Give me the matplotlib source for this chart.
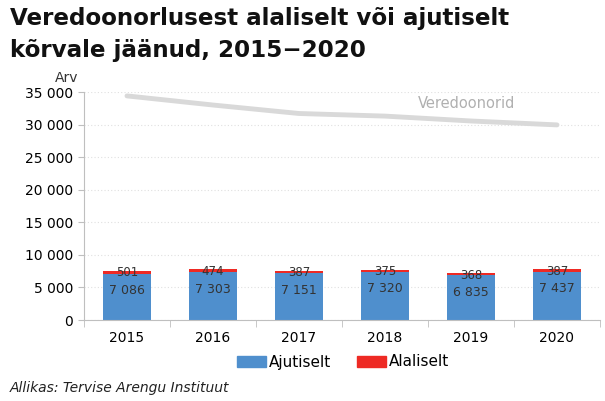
import matplotlib.pyplot as plt
from matplotlib.patches import Patch

# ── Data ──────────────────────────────────────────────────────────────────────
years = ["2015", "2016", "2017", "2018", "2019", "2020"]
ajutiselt = [7086, 7303, 7151, 7320, 6835, 7437]
alaliselt = [501, 474, 387, 375, 368, 387]
veredoonorid = [34400, 33000, 31700, 31300, 30550, 29950]

BLUE = "#4f8fcd"
RED = "#ee2a24"
GREY = "#d9d9d9"
plt.rcParams["font.family"] = ["DejaVu Sans"]

fig = plt.figure(figsize=(6.05, 4.01), dpi=100)
ax = fig.add_axes([84 / 605, 1 - 320 / 401, 516 / 605, 228 / 401])

x = list(range(len(years)))
ax.bar(x, ajutiselt, width=0.56, color=BLUE, zorder=2)
ax.bar(x, alaliselt, width=0.56, bottom=ajutiselt, color=RED, zorder=2)
ax.plot(x, veredoonorid, color=GREY, linewidth=3.5, solid_capstyle="round", zorder=2)

fmt = lambda v: f"{v:,}".replace(",", " ")
for xi, a, b in zip(x, ajutiselt, alaliselt):
    ax.annotate(fmt(a), (xi, a), xytext=(0, -12), textcoords="offset points",
                ha="center", va="center", fontsize=9, color="#333333", zorder=3)
    ax.annotate(fmt(b), (xi, a + b), xytext=(0, -1.5), textcoords="offset points",
                ha="center", va="center", fontsize=8.5, color="#333333", zorder=3)

ax.text(3.38, 33200, "Veredoonorid", color="#b0b0b0", fontsize=10.5, ha="left", va="center")

ax.set_xlim(-0.5, 5.5)
ax.set_ylim(0, 35000)
ax.set_yticks(range(0, 35001, 5000))
ax.set_yticklabels([fmt(v) for v in range(0, 35001, 5000)], fontsize=10)
ax.set_xticks(x)
ax.set_xticklabels(years, fontsize=10)
ax.set_xticks([i - 0.5 for i in range(len(years) + 1)], minor=True)
ax.tick_params(axis="x", which="major", length=0, pad=8)
ax.tick_params(axis="x", which="minor", length=5, color="#bfbfbf")
ax.tick_params(axis="y", length=4, color="#bfbfbf", pad=4)
ax.yaxis.grid(True, color="#e0e0e0", linestyle=(0, (1, 2)), linewidth=0.8, zorder=0)
for s in ("top", "right"):
    ax.spines[s].set_visible(False)
for s in ("left", "bottom"):
    ax.spines[s].set_color("#bfbfbf")

fig.text(78 / 605, 1 - 78 / 401, "Arv", ha="right", va="center", fontsize=10, color="#333333")

fig.text(10 / 605, 1 - 18 / 401, "Veredoonorlusest alaliselt või ajutiselt",
         fontsize=16.6, fontweight="bold", va="center", ha="left", color="#111111")
fig.text(10 / 605, 1 - 50 / 401, "kõrvale jäänud, 2015−2020",
         fontsize=16.6, fontweight="bold", va="center", ha="left", color="#111111")

handles = [Patch(color=BLUE, label="Ajutiselt"), Patch(color=RED, label="Alaliselt")]
fig.legend(handles=handles, loc="center", bbox_to_anchor=(343 / 605, 1 - 362 / 401),
           ncol=2, frameon=False, fontsize=11, handlelength=1.9, handleheight=0.75,
           handletextpad=0.2, columnspacing=1.7)

fig.text(10 / 605, 1 - 388 / 401, "Allikas: Tervise Arengu Instituut",
         fontsize=10, style="italic", va="center", ha="left", color="#222222")

fig.savefig("out.png", dpi=100)
